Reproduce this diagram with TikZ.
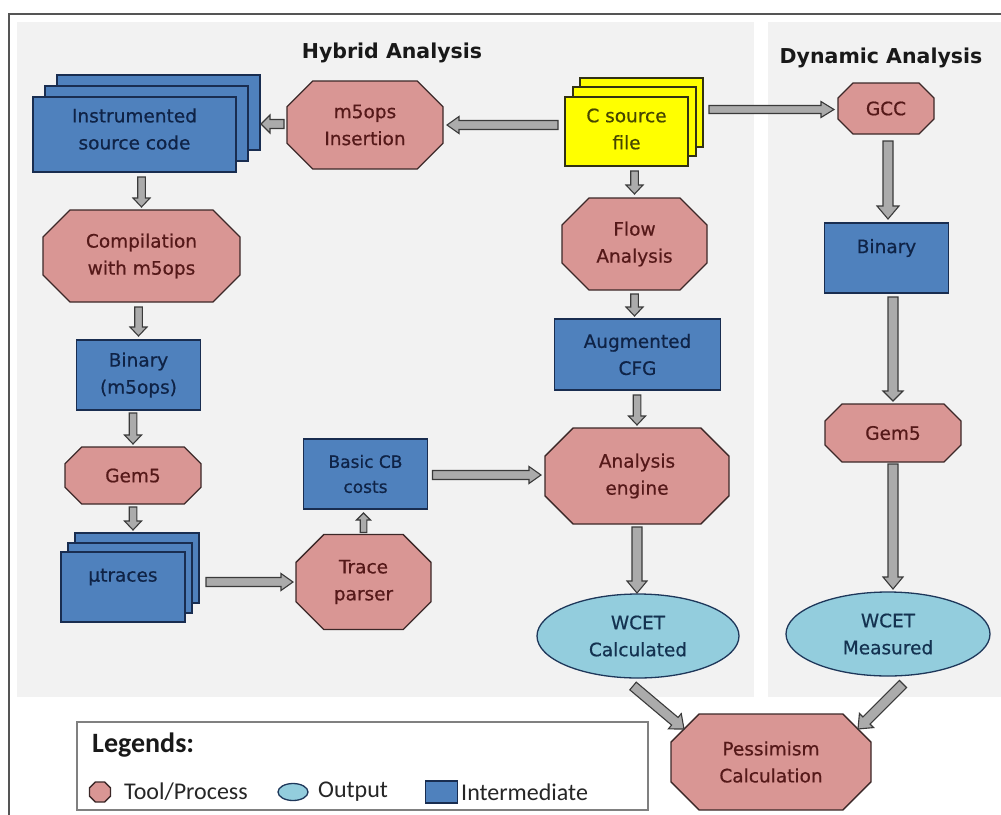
\documentclass[tikz,border=0pt]{standalone}
\usepackage{fontspec}
\setmainfont{DejaVu Sans}
\newfontfamily\legfont{Carlito}
\newfontfamily\nodefam[FakeBold=0.6]{DejaVu Sans}
\usetikzlibrary{calc,shapes.geometric}
\definecolor{panel}{HTML}{F2F2F2}
\definecolor{framecol}{HTML}{555555}
\definecolor{bluefill}{HTML}{4F81BD}
\definecolor{blueedge}{RGB}{25,45,80}
\definecolor{bluetxt}{RGB}{15,35,70}
\definecolor{pinkfill}{HTML}{D99694}
\definecolor{pinkedge}{RGB}{60,40,40}
\definecolor{pinktxt}{RGB}{85,25,25}
\definecolor{yelfill}{HTML}{FFFF00}
\definecolor{yeledge}{RGB}{50,50,20}
\definecolor{yeltxt}{RGB}{70,70,0}
\definecolor{ellfill}{HTML}{93CDDD}
\definecolor{elledge}{RGB}{30,55,90}
\definecolor{elltxt}{RGB}{20,50,80}
\definecolor{arrowfill}{HTML}{ABABAB}
\definecolor{arrowedge}{HTML}{3A3A3A}
\definecolor{legedge}{HTML}{808080}
\newcommand\nodefont{\nodefam\fontsize{18.5}{27}\selectfont}
\tikzset{
  bluebox/.style={draw=blueedge, fill=bluefill, line width=1.3pt, inner sep=0pt, outer sep=0pt, align=center, text=bluetxt, font=\nodefont},
  yelbox/.style={draw=yeledge, fill=yelfill, line width=1.3pt, inner sep=0pt, outer sep=0pt},
  boxtext/.style={align=center, inner sep=0pt, outer sep=0pt, font=\nodefont},
  pinkshape/.style={draw=pinkedge, fill=pinkfill, line width=1.3pt, line join=miter},
  pinktext/.style={align=center, text=pinktxt, font=\nodefont, inner sep=0pt, outer sep=0pt},
  ellbox/.style={ellipse, draw=elledge, fill=ellfill, line width=1.3pt, inner sep=0pt, outer sep=0pt, align=center, text=elltxt, font=\nodefont},
  blockarrow/.style={draw=arrowedge, fill=arrowfill, line width=1.1pt, line join=miter},
  titletext/.style={font=\fontsize{20.5}{24}\selectfont\bfseries, text=black!90, inner sep=0pt, anchor=base},
  legtext/.style={font=\legfont\fontsize{24}{28}\selectfont, text=black!85, inner sep=0pt, anchor=west},
}
% octagon: name, cx, cy, w, h, text
\newcommand\octo[6]{%
  \pgfmathsetmacro\ohw{#4/2}\pgfmathsetmacro\ohh{#5/2}\pgfmathsetmacro\occ{0.293*min(#4,#5)}%
  \draw[pinkshape] (#2-\ohw+\occ,#3-\ohh) -- (#2+\ohw-\occ,#3-\ohh) -- (#2+\ohw,#3-\ohh+\occ)
    -- (#2+\ohw,#3+\ohh-\occ) -- (#2+\ohw-\occ,#3+\ohh) -- (#2-\ohw+\occ,#3+\ohh)
    -- (#2-\ohw,#3+\ohh-\occ) -- (#2-\ohw,#3-\ohh+\occ) -- cycle;
  \node[pinktext, minimum width=#4, minimum height=#5] (#1) at (#2,#3) {#6};}
% block arrow: start, tip, shaft half width, head half width, head length
\newcommand\barrow[5]{%
  \path (#1) coordinate (ba) (#2) coordinate (bb);
  \pgfpointdiff{\pgfpointanchor{ba}{center}}{\pgfpointanchor{bb}{center}}%
  \pgfgetlastxy{\bdx}{\bdy}%
  \pgfmathsetmacro\bang{atan2(\bdy,\bdx)}%
  \pgfmathsetmacro\blen{veclen(\bdx,\bdy)}%
  \begin{scope}[shift={(ba)}, rotate=\bang]
    \draw[blockarrow] (0pt,#3pt) -- ({\blen pt-#5pt},{#3pt}) -- ({\blen pt-#5pt},{#4pt})
      -- ({\blen pt},0pt) -- ({\blen pt-#5pt},{-#4pt}) -- ({\blen pt-#5pt},{-#3pt})
      -- (0pt,{-#3pt}) -- cycle;
  \end{scope}}
\begin{document}
\begin{tikzpicture}[x=1pt,y=-1pt]
\useasboundingbox (0,0) rectangle (1001,814);
\clip (0,0) rectangle (1001,814);
\fill[white] (0,0) rectangle (1001,814);
\draw[framecol, line width=1.6pt] (9,14) rectangle (1030,840);
\fill[panel] (17,22) rectangle (754,697);
\fill[panel] (768,22) rectangle (1010,697);

\node[titletext] (thyb) at (392,58) {Hybrid Analysis};
\node[titletext] (tdyn) at (881,63) {Dynamic Analysis};

% stacked documents
\node[bluebox, minimum width=203, minimum height=75] (instr3) at (158.5,112.5) {};
\node[bluebox, minimum width=203, minimum height=75] (instr2) at (146.5,123.5) {};
\node[bluebox, minimum width=203, minimum height=75] (instr) at (134.5,134.5) {};
\node[boxtext, text=bluetxt] (instrt) at (134.5,129) {Instrumented\\source code};

\node[yelbox, minimum width=123, minimum height=69] (csrc3) at (641.5,112.5) {};
\node[yelbox, minimum width=123, minimum height=69] (csrc2) at (634.5,121.5) {};
\node[yelbox, minimum width=123, minimum height=69] (csrc) at (626.5,131.5) {};
\node[boxtext, text=yeltxt] (csrct) at (626.5,129) {C source\\file};

\node[bluebox, minimum width=124, minimum height=70] (utr3) at (137,568) {};
\node[bluebox, minimum width=124, minimum height=70] (utr2) at (130,578) {};
\node[bluebox, minimum width=124, minimum height=70] (utr) at (123,587) {};
\node[boxtext, text=bluetxt] (utrt) at (123,577) {µtraces};

% rectangles
\node[bluebox, minimum width=124, minimum height=70] (bindyn) at (886.5,258) {};
\node[boxtext, text=bluetxt] (bindynt) at (886.5,248) {Binary};
\node[bluebox, minimum width=124, minimum height=70] (binm5) at (138.5,375) {Binary\\(m5ops)};
\node[bluebox, minimum width=166, minimum height=71] (aug) at (637.5,354.5) {Augmented\\CFG};
\node[bluebox, minimum width=124, minimum height=70, font=\nodefam\fontsize{17}{25}\selectfont] (basic) at (365.5,474) {Basic CB\\costs};

% octagons
\octo{m5}{365}{125}{156}{88}{m5ops\\Insertion}
\octo{gcc}{886}{108.5}{96}{51}{GCC}
\octo{comp}{141.5}{256}{197}{92}{Compilation\\with m5ops}
\octo{flow}{634.5}{244}{145}{92}{Flow\\Analysis}
\octo{gemL}{133}{475.5}{136}{57}{Gem5}
\octo{anal}{637}{476}{184}{96}{Analysis\\engine}
\octo{gemR}{893}{433}{136}{58}{Gem5}
\octo{trace}{363.5}{582}{135}{95}{Trace\\parser}
\octo{pess}{771}{762}{200}{96}{Pessimism\\Calculation}

% ellipses
\node[ellbox, minimum width=202, minimum height=84] (wcetc) at (638,636) {WCET\\Calculated};
\node[ellbox, minimum width=204, minimum height=84] (wcetm) at (888,634) {WCET\\Measured};

% arrows
\barrow{$(csrc.west |- m5.east)+(-7,0)$}{$(m5.east)+(4,0)$}{4.5}{8.5}{12}
\barrow{$(m5.west)+(-3,-1)$}{$(instr3.east |- m5.west)+(1,-1)$}{4.5}{9}{9}
\barrow{$(csrc3.east |- gcc.west)+(6,1)$}{$(gcc.west)+(-4,1)$}{4}{8}{13}
\barrow{$(instr.south -| comp.north)+(0,5)$}{$(comp.north)+(0,-3)$}{3.8}{8.5}{9}
\barrow{$(csrc.south -| flow.north)+(0,5)$}{$(flow.north)+(0,-4)$}{3.8}{8.5}{9}
\barrow{$(gcc.south)+(2,7)$}{$(gcc.south |- bindyn.north)+(2,-4)$}{5}{11}{13}
\barrow{$(comp.south -| binm5.north)+(0,5)$}{$(binm5.north)+(0,-4)$}{3.8}{8.5}{9}
\barrow{$(flow.south)+(0,4)$}{$(flow.south |- aug.north)+(0,-3)$}{3.8}{8.5}{9}
\barrow{$(binm5.south -| gemL.north)+(0,3)$}{$(gemL.north)+(0,-3)$}{3.8}{8.5}{9}
\barrow{$(aug.south -| anal.north)+(0,5)$}{$(anal.north)+(0,-3)$}{3.8}{8.5}{9}
\barrow{$(bindyn.south -| gemR.north)+(0,4)$}{$(gemR.north)+(0,-3)$}{5}{10}{10}
\barrow{$(gemL.south)+(0,3)$}{$(gemL.south |- utr3.north)+(0,-3)$}{3.8}{8.5}{9}
\barrow{$(basic.east)+(5,1)$}{$(anal.west |- basic.east)+(-4,1)$}{4.5}{8.5}{12}
\barrow{$(trace.north)+(0,-2)$}{$(basic.south -| trace.north)+(0,4)$}{3.3}{7}{7}
\barrow{$(utr3.east |- trace.west)+(7,0)$}{$(trace.west)+(-3,0)$}{4.5}{8.5}{12}
\barrow{$(anal.south)+(0,3)$}{$(anal.south |- wcetc.north)+(0,-1)$}{5}{10}{12}
\barrow{$(gemR.south)+(0,2)$}{$(gemR.south |- wcetm.north)+(0,-3)$}{5}{10}{12}
\barrow{$(wcetc.south)+(-5,8)$}{$(pess.north west)+(13,15)$}{5}{10}{12}
\barrow{$(wcetm.south)+(15,8)$}{$(pess.north east)+(-13,15)$}{5}{10}{12}

% legend
\node[draw=legedge, fill=white, line width=1.2pt, minimum width=571, minimum height=88, inner sep=0pt] (legbox) at (362.5,766) {};
\node[font=\legfont\fontsize{28}{32}\selectfont\bfseries, text=black!90, inner sep=0pt, anchor=west] (legtitle) at (92,745) {Legends:};
\octo{legoct}{100}{792}{21}{20}{}
\node[legtext] (legl1) at (124,792) {Tool/Process};
\node[ellbox, minimum width=30, minimum height=17] (legell) at (293,792) {};
\node[legtext] (legl2) at (318,792) {Output};
\node[bluebox, minimum width=32, minimum height=22] (legsq) at (441.5,792) {};
\node[legtext] (legl3) at (461,792) {Intermediate};
\end{tikzpicture}
\end{document}
